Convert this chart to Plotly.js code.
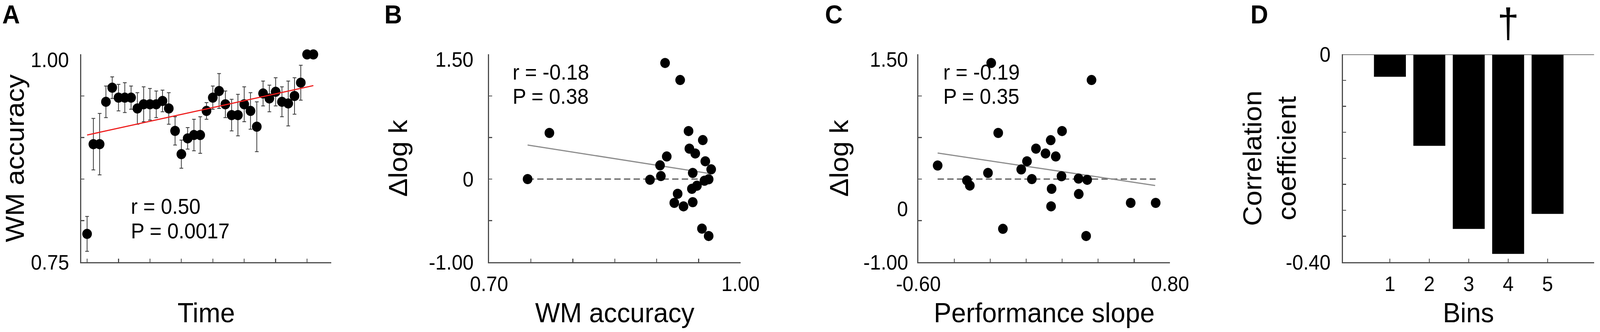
<!DOCTYPE html>
<html>
<head>
<meta charset="utf-8">
<script src="https://cdn.plot.ly/plotly-3.0.1.min.js"></script>
<style>
html,body{margin:0;padding:0;background:#fff;overflow:hidden;}
#chart{width:4317px;height:851px;transform-origin:0 0;}
</style>
</head>
<body>
<div id="chart"></div>
<script>
// ---------- Panel A: WM accuracy over time ----------
const sessionIdx = [1,2,3,4,5,6,7,8,9,10,11,12,13,14,15,16,17,18,19,20,21,22,23,24,25,26,27,28,29,30,31,32,33,34,35,36,37];
const wmAccuracy = [0.784,0.892,0.892,0.943,0.960,0.948,0.948,0.948,0.935,0.940,0.940,0.940,0.944,0.935,0.908,0.880,0.899,0.903,0.903,0.932,0.948,0.956,0.940,0.927,0.927,0.940,0.932,0.913,0.953,0.947,0.955,0.943,0.941,0.950,0.966,1.000,1.000];
const wmSem      = [0.021,0.031,0.037,0.019,0.013,0.016,0.018,0.014,0.019,0.021,0.019,0.016,0.013,0.019,0.017,0.017,0.013,0.019,0.022,0.010,0.014,0.021,0.016,0.019,0.025,0.021,0.022,0.030,0.015,0.016,0.017,0.018,0.027,0.022,0.021,0,0];
const fitA_x = [1, 37];
const fitA_y = [0.903, 0.9625];
const statsA = ['r = 0.50', 'P = 0.0017'];
const timeTicks = [1,6,11,16,21,26,31,36];
const accTicksA = [0.75,0.80,0.85,0.90,0.95,1.00];
const accLabelsA = ['0.75','','','','',''];
const accTopLabelAt = [0.9934];
const accTopLabel = ['1.00'];

// ---------- Panel B: delta log k vs WM accuracy ----------
const accB   = [0.746,0.772,0.892,0.904,0.905,0.912,0.910,0.928,0.925,0.921,0.932,0.938,0.939,0.946,0.943,0.942,0.948,0.943,0.955,0.958,0.965,0.957,0.962,0.954,0.962];
const dlogkB = [0.000,0.555,-0.008,0.165,0.036,0.272,1.397,1.192,-0.177,-0.286,-0.328,0.578,0.366,0.308,0.074,-0.117,-0.080,-0.278,0.469,0.214,0.117,-0.020,-0.002,-0.596,-0.685];
const fitB_x = [0.746, 0.966];
const fitB_y = [0.410, 0.062];
const statsB = ['r = -0.18', 'P = 0.38'];
const accTicksB = [0.70,0.75,0.80,0.85,0.90,0.95,1.00];
const accLabelsB = ['0.70','','','','','','1.00'];
const dTicks = [-1.0,-0.5,0,0.5,1.0,1.5];
const dLabelsB = ['-1.00','','0','','',''];
const dTopLabelAt = [1.439];
const dTopLabel = ['1.50'];

// ---------- Panel C: delta log k vs performance slope ----------
const slopeC = [-0.493,-0.330,-0.314,-0.213,-0.156,-0.130,-0.028,0.004,0.031,0.054,0.107,0.136,0.164,0.141,0.138,0.199,0.196,0.291,0.339,0.292,0.333,-0.195,0.363,0.581,0.720];
const dlogkC = [0.163,-0.016,-0.078,0.074,0.555,-0.599,0.116,0.214,0.000,0.366,0.308,0.468,0.272,-0.117,-0.328,0.578,0.034,0.006,-0.009,-0.180,-0.685,1.397,1.192,-0.286,-0.286];
const fitC_x = [-0.493, 0.717];
const fitC_y = [0.313, -0.077];
const statsC = ['r = -0.19', 'P = 0.35'];
const slopeTicks = [-0.6,-0.4,-0.2,0,0.2,0.4,0.6,0.8];
const slopeLabels = ['-0.60','','','','','','','0.80'];
const dLabelsC = ['-1.00','','','','',''];
const cLabelAt = [-0.36, 1.439];
const cLabel = ['0', '1.50'];

// ---------- Panel D: correlation coefficient per bin ----------
const bins = [1,2,3,4,5];
const binLabels = ['1','2','3','4','5'];
const corrCoef = [-0.043,-0.176,-0.336,-0.384,-0.307];
const corrTicks = [-0.40,-0.35,-0.30,-0.25,-0.20,-0.15,-0.10,-0.05,0];
const corrBlank = ['','','','','','','','',''];
const corrLabelAt = [-0.40, 0];
const corrLabel = ['-0.40', '0'];
const markedBin = 4;

const FONT = 'Liberation Sans, Arial, Helvetica, sans-serif';
const AX = '#4d4d4d';
const TICKFONT = {family: FONT, size: 53, color: '#000'};
const TITLEFONT = {family: FONT, size: 71, color: '#000'};
const STATFONT = {family: FONT, size: 55, color: '#000'};
const LETTERFONT = {family: FONT, size: 66, color: '#000'};

function baseAxis(extra) {
  return Object.assign({
    showline: true, linecolor: AX, linewidth: 3,
    ticks: 'inside', ticklen: 9, tickwidth: 2.5, tickcolor: AX,
    showgrid: false, zeroline: false, fixedrange: true,
    tickfont: TICKFONT, automargin: false
  }, extra);
}
function labelAxis(over, anchor, range, vals, text, standoff) {
  return {domain: yDom, anchor: anchor, overlaying: over, side: 'left', range: range,
    showline: false, ticks: '', showgrid: false, zeroline: false, fixedrange: true,
    tickmode: 'array', tickvals: vals, ticktext: text, tickfont: TICKFONT,
    ticklabelstandoff: standoff, automargin: false};
}
function note(text, xref, yref, x, y, font, xanchor) {
  return {text: text, xref: xref, yref: yref, x: x, y: y, xanchor: xanchor || 'left',
    yanchor: 'middle', showarrow: false, font: font};
}

const yDom = [0.2103, 0.8361];

const traces = [
  {x: sessionIdx, y: wmAccuracy, xaxis: 'x', yaxis: 'y', type: 'scatter', mode: 'markers',
   marker: {color: '#000', size: 26}, cliponaxis: false,
   error_y: {type: 'data', array: wmSem, visible: true, color: '#333', thickness: 2, width: 5}},
  {x: fitA_x, y: fitA_y, xaxis: 'x', yaxis: 'y', type: 'scatter', mode: 'lines',
   line: {color: '#ee1c1c', width: 3}},
  {x: [Math.min(...accB), Math.max(...accB)], y: [0, 0], xaxis: 'x2', yaxis: 'y2', type: 'scatter', mode: 'lines',
   line: {color: '#555', width: 3, dash: '17px,9px'}},
  {x: fitB_x, y: fitB_y, xaxis: 'x2', yaxis: 'y2', type: 'scatter', mode: 'lines',
   line: {color: '#8c8c8c', width: 3}},
  {x: accB, y: dlogkB, xaxis: 'x2', yaxis: 'y2', type: 'scatter', mode: 'markers',
   marker: {color: '#000', size: 26}, cliponaxis: false},
  {x: [Math.min(...slopeC), Math.max(...slopeC)], y: [0, 0], xaxis: 'x3', yaxis: 'y3', type: 'scatter', mode: 'lines',
   line: {color: '#555', width: 3, dash: '17px,9px'}},
  {x: fitC_x, y: fitC_y, xaxis: 'x3', yaxis: 'y3', type: 'scatter', mode: 'lines',
   line: {color: '#8c8c8c', width: 3}},
  {x: slopeC, y: dlogkC, xaxis: 'x3', yaxis: 'y3', type: 'scatter', mode: 'markers',
   marker: {color: '#000', size: 26}, cliponaxis: false},
  {x: bins, y: corrCoef, xaxis: 'x4', yaxis: 'y4', type: 'bar',
   marker: {color: '#000', line: {width: 0}}},
  // empty traces that carry the label-only overlay axes
  {x: [], y: [], xaxis: 'x3', yaxis: 'y5', type: 'scatter', mode: 'markers', hoverinfo: 'skip'},
  {x: [], y: [], xaxis: 'x', yaxis: 'y6', type: 'scatter', mode: 'markers', hoverinfo: 'skip'},
  {x: [], y: [], xaxis: 'x2', yaxis: 'y7', type: 'scatter', mode: 'markers', hoverinfo: 'skip'},
  {x: [], y: [], xaxis: 'x4', yaxis: 'y8', type: 'scatter', mode: 'markers', hoverinfo: 'skip'}
];

const layout = {
  width: 4317, height: 851,
  margin: {l: 0, r: 0, t: 0, b: 0},
  paper_bgcolor: '#fff', plot_bgcolor: '#fff',
  showlegend: false, bargap: 0.19,
  font: {family: FONT, color: '#000'},
  xaxis: baseAxis({domain: [0.05073, 0.20709], anchor: 'y', range: [0.06, 39.86],
    tickmode: 'array', tickvals: timeTicks, showticklabels: false,
    title: {text: 'Time', font: TITLEFONT, standoff: 103}}),
  yaxis: baseAxis({domain: yDom, anchor: 'x', range: [0.75, 1.00],
    tickmode: 'array', tickvals: accTicksA, ticktext: accLabelsA, ticklabelstandoff: 19,
    title: {text: 'WM accuracy', font: TITLEFONT, standoff: 0}}),
  yaxis6: labelAxis('y', 'x', [0.75, 1.00], accTopLabelAt, accTopLabel, 32),
  xaxis2: baseAxis({domain: [0.30565, 0.46282], anchor: 'y2', range: [0.70, 1.00],
    tickmode: 'array', tickvals: accTicksB, ticktext: accLabelsB, ticklabelstandoff: 7,
    title: {text: 'WM accuracy', font: TITLEFONT, standoff: 21}}),
  yaxis2: baseAxis({domain: yDom, anchor: 'x2', range: [-1.0, 1.5],
    tickmode: 'array', tickvals: dTicks, ticktext: dLabelsB, ticklabelstandoff: 28,
    title: {text: 'Δlog k', font: TITLEFONT, standoff: 35}}),
  yaxis7: labelAxis('y2', 'x2', [-1.0, 1.5], dTopLabelAt, dTopLabel, 41),
  xaxis3: baseAxis({domain: [0.57401, 0.73129], anchor: 'y3', range: [-0.6, 0.8],
    tickmode: 'array', tickvals: slopeTicks, ticktext: slopeLabels, ticklabelstandoff: 7,
    title: {text: 'Performance slope', font: TITLEFONT, standoff: 21}}),
  yaxis3: baseAxis({domain: yDom, anchor: 'x3', range: [-1.0, 1.5],
    tickmode: 'array', tickvals: dTicks, ticktext: dLabelsC, ticklabelstandoff: 14,
    title: {text: 'Δlog k', font: TITLEFONT, standoff: 18}}),
  yaxis5: labelAxis('y3', 'x3', [-1.0, 1.5], cLabelAt, cLabel, 27),
  xaxis4: baseAxis({domain: [0.83924, 0.99629], anchor: 'y4', range: [-0.196, 6.18],
    tickmode: 'array', tickvals: bins, ticktext: binLabels, ticklabelstandoff: 7,
    title: {text: 'Bins', font: TITLEFONT, standoff: 21}}),
  yaxis4: baseAxis({domain: yDom, anchor: 'x4', range: [-0.40, 0],
    tickmode: 'array', tickvals: corrTicks, ticktext: corrBlank,
    title: {text: 'Correlation<br>coefficient', font: TITLEFONT, standoff: 90}}),
  yaxis8: labelAxis('y4', 'x4', [-0.40, 0], corrLabelAt, corrLabel, 32),
  shapes: [
    {type: 'line', xref: 'x4 domain', yref: 'y4', x0: 0, x1: 1, y0: 0, y1: 0,
     line: {color: AX, width: 3}}
  ],
  annotations: [
    note('<b>A</b>', 'paper', 'paper', 4/4317, 0.9565, LETTERFONT),
    note('<b>B</b>', 'paper', 'paper', 1035/4317, 0.9565, LETTERFONT),
    note('<b>C</b>', 'paper', 'paper', 2224/4317, 0.9565, LETTERFONT),
    note('<b>D</b>', 'paper', 'paper', 3372/4317, 0.9565, LETTERFONT),
    note(statsA[0], 'x domain', 'y domain', 0.1953, 0.2683, STATFONT),
    note(statsA[1], 'x domain', 'y domain', 0.1953, 0.1508, STATFONT),
    note(statsB[0], 'x2 domain', 'y2 domain', 0.0906, 0.9146, STATFONT),
    note(statsB[1], 'x2 domain', 'y2 domain', 0.0906, 0.7974, STATFONT),
    note(statsC[0], 'x3 domain', 'y3 domain', 0.0954, 0.9146, STATFONT),
    note(statsC[1], 'x3 domain', 'y3 domain', 0.0954, 0.7974, STATFONT),
    note('†', 'x4', 'paper', markedBin, 0.9301, {family: FONT, size: 105, color: '#000'}, 'center')
  ]
};

Plotly.newPlot('chart', traces, layout, {staticPlot: true, displayModeBar: false}).then(function(){
  // the window may be narrower than the 4317px figure: squeeze horizontally to fit
  const s = Math.min(1, window.innerWidth / 4317);
  document.getElementById('chart').style.transform = 'scaleX(' + s + ')';
});
</script>
</body>
</html>
